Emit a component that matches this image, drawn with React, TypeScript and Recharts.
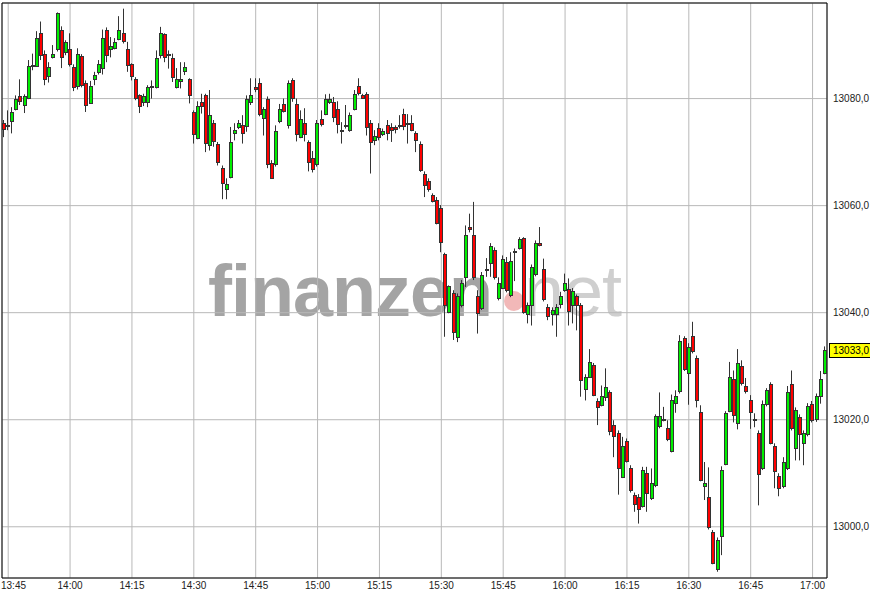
import React from 'react';
import { ComposedChart, Bar, XAxis, YAxis, CartesianGrid, ReferenceArea, ReferenceLine } from 'recharts';

// 1-minute candles, first candle at 13:44
const startMinute = 13 * 60 + 44;

const open = [
  13075.5, 13075.0, 13075.8, 13078.1, 13080.5, 13078.8, 13080.2, 13086.1, 13086.1, 13092.3,
  13088.4, 13084.2, 13087.7, 13089.2, 13092.9, 13088.7, 13089.3, 13085.9, 13082.3, 13087.9,
  13082.9, 13079.2, 13083.7, 13085.0, 13085.7, 13092.9, 13089.2, 13089.5, 13091.1, 13092.3,
  13089.3, 13086.4, 13083.6, 13080.6, 13079.4, 13079.3, 13082.2, 13082.2, 13088.1, 13092.0,
  13088.4, 13087.5, 13082.2, 13083.2, 13085.1, 13083.6, 13077.5, 13072.7, 13079.4, 13080.6,
  13071.3, 13075.5, 13071.6, 13067.0, 13063.2, 13065.4, 13073.6, 13074.7, 13075.0, 13074.9,
  13079.3, 13082.1, 13083.0, 13076.3, 13080.0, 13068.0, 13067.7, 13075.8, 13079.0, 13075.0,
  13083.5, 13078.9, 13072.8, 13075.5, 13071.9, 13068.9, 13067.7, 13076.1, 13077.2, 13079.3,
  13079.4, 13078.0, 13074.2, 13075.1, 13074.1, 13078.1, 13082.4, 13080.6, 13080.9, 13075.5,
  13072.2, 13074.5, 13073.3, 13075.0, 13074.6, 13074.6, 13075.0, 13077.1, 13075.5, 13075.4,
  13073.5, 13071.6, 13066.0, 13064.6, 13061.9, 13061.1, 13059.6, 13051.0, 13040.1, 13043.6,
  13035.5, 13041.4, 13046.7, 13056.0, 13054.6, 13043.1, 13040.8, 13048.2, 13049.2, 13051.7,
  13042.7, 13044.6, 13049.5, 13043.3, 13051.3, 13052.1, 13054.0, 13039.8, 13041.4, 13047.3,
  13053.1, 13048.1, 13041.1, 13039.8, 13039.8, 13041.7, 13044.3, 13044.5, 13041.4, 13043.1,
  13041.5, 13025.8, 13028.0, 13030.2, 13023.5, 13022.8, 13024.2, 13025.1, 13019.1, 13017.6,
  13009.3, 13016.0, 13011.0, 13006.0, 13005.6, 13003.9, 13010.1, 13005.3, 13007.8, 13018.8,
  13020.1, 13018.5, 13014.2, 13023.2, 13025.3, 13035.2, 13028.8, 13035.6, 13031.6, 13021.4,
  13007.6, 13005.6, 12999.0, 12992.2, 12998.3, 13011.8, 13021.6, 13027.7, 13019.3, 13030.0,
  13026.3, 13023.6, 13020.1, 13017.5, 13011.0, 13022.9, 13026.6, 13015.1, 13009.5, 13007.6,
  13011.0, 13026.6, 13014.8, 13020.5, 13015.7, 13017.3, 13023.0, 13020.2, 13024.4, 13028.8,
];

const high = [
  13076.0, 13077.8, 13078.4, 13080.6, 13083.6, 13080.8, 13087.2, 13088.4, 13092.6, 13094.4,
  13089.0, 13086.8, 13090.0, 13096.1, 13093.5, 13090.9, 13092.2, 13086.4, 13089.4, 13088.3,
  13083.4, 13083.3, 13085.0, 13087.2, 13092.9, 13093.3, 13091.5, 13091.3, 13095.4, 13096.8,
  13090.6, 13086.6, 13084.0, 13080.8, 13080.9, 13082.5, 13083.4, 13089.0, 13093.4, 13092.2,
  13089.0, 13088.4, 13085.7, 13086.8, 13086.8, 13083.8, 13077.8, 13079.5, 13080.9, 13080.9,
  13081.6, 13076.0, 13071.9, 13067.5, 13065.1, 13074.7, 13075.4, 13076.0, 13076.9, 13080.6,
  13083.8, 13083.8, 13083.8, 13078.4, 13080.4, 13068.5, 13075.0, 13079.0, 13080.0, 13083.4,
  13083.8, 13080.0, 13077.8, 13078.2, 13072.2, 13070.2, 13076.0, 13077.8, 13080.8, 13080.9,
  13080.3, 13079.5, 13075.6, 13078.8, 13077.4, 13081.6, 13083.8, 13080.9, 13081.2, 13076.0,
  13074.1, 13075.4, 13074.4, 13076.0, 13075.4, 13075.0, 13076.9, 13078.1, 13077.1, 13076.9,
  13073.9, 13072.0, 13066.4, 13065.1, 13062.3, 13061.6, 13060.1, 13051.2, 13045.1, 13044.2,
  13043.6, 13046.1, 13056.3, 13058.5, 13060.7, 13044.2, 13047.6, 13050.2, 13053.0, 13052.2,
  13046.6, 13050.7, 13050.4, 13051.3, 13052.0, 13054.1, 13054.1, 13041.9, 13049.0, 13053.5,
  13056.0, 13050.1, 13041.6, 13041.0, 13041.6, 13043.9, 13047.3, 13046.4, 13044.6, 13043.4,
  13041.8, 13028.5, 13033.2, 13030.6, 13024.0, 13026.4, 13029.6, 13025.5, 13019.9, 13018.0,
  13016.8, 13016.5, 13011.5, 13006.4, 13006.1, 13011.2, 13011.2, 13010.9, 13021.0, 13025.1,
  13022.4, 13019.9, 13024.7, 13025.5, 13035.8, 13035.6, 13034.3, 13038.3, 13032.0, 13022.7,
  13012.1, 13011.1, 12999.4, 12998.0, 13011.3, 13021.6, 13030.8, 13029.2, 13033.2, 13031.1,
  13027.8, 13024.6, 13021.2, 13018.0, 13023.6, 13025.9, 13027.0, 13015.6, 13010.0, 13013.0,
  13026.3, 13029.2, 13022.3, 13021.0, 13018.0, 13023.1, 13023.5, 13024.9, 13029.1, 13033.7,
];

const low = [
  13072.8, 13074.1, 13073.5, 13077.8, 13078.8, 13077.3, 13079.9, 13085.3, 13085.9, 13087.2,
  13082.5, 13083.0, 13087.5, 13088.8, 13085.7, 13088.1, 13086.0, 13081.4, 13081.7, 13082.1,
  13077.5, 13079.0, 13082.5, 13084.5, 13084.5, 13086.8, 13087.7, 13089.2, 13090.9, 13090.3,
  13085.0, 13083.4, 13079.7, 13077.3, 13078.6, 13078.4, 13080.0, 13081.9, 13087.5, 13086.8,
  13085.6, 13083.1, 13081.9, 13081.9, 13084.4, 13079.1, 13071.6, 13072.4, 13077.2, 13070.0,
  13070.3, 13071.0, 13067.5, 13061.2, 13061.2, 13065.1, 13072.2, 13074.3, 13071.6, 13073.8,
  13078.8, 13081.2, 13076.7, 13073.1, 13067.0, 13065.1, 13067.3, 13075.4, 13077.4, 13074.4,
  13079.4, 13072.0, 13072.6, 13072.0, 13066.4, 13066.2, 13067.3, 13074.8, 13076.9, 13079.0,
  13075.6, 13073.5, 13071.6, 13074.4, 13073.8, 13077.8, 13080.6, 13080.0, 13073.1, 13066.0,
  13071.3, 13072.2, 13073.0, 13072.2, 13071.9, 13073.5, 13074.4, 13074.1, 13071.6, 13073.9,
  13070.0, 13066.3, 13061.6, 13062.6, 13060.6, 13056.5, 13051.3, 13035.5, 13039.9, 13034.9,
  13034.5, 13041.0, 13044.8, 13055.0, 13046.1, 13036.1, 13040.5, 13046.7, 13046.7, 13046.2,
  13042.3, 13044.4, 13043.8, 13042.9, 13045.9, 13051.8, 13039.8, 13038.0, 13037.6, 13046.8,
  13052.4, 13042.1, 13038.6, 13037.6, 13035.5, 13040.8, 13043.9, 13037.6, 13038.0, 13036.7,
  13024.3, 13023.6, 13027.8, 13024.4, 13019.0, 13022.5, 13023.5, 13017.1, 13013.0, 13006.0,
  13009.1, 13012.0, 13006.4, 13002.8, 13000.6, 13003.6, 13002.8, 13005.0, 13007.4, 13018.4,
  13019.7, 13016.0, 13013.9, 13021.3, 13024.9, 13029.1, 13022.8, 13032.4, 13022.3, 13008.5,
  13005.0, 12999.5, 12993.0, 12991.6, 12994.7, 13011.5, 13021.4, 13019.5, 13018.2, 13026.4,
  13024.9, 13018.3, 13018.6, 13004.0, 13010.6, 13022.5, 13015.4, 13007.2, 13005.7, 13007.2,
  13010.6, 13018.0, 13012.4, 13012.4, 13011.5, 13016.9, 13019.5, 13019.6, 13023.0, 13028.5,
];

const close = [
  13074.3, 13074.9, 13077.5, 13080.0, 13079.6, 13080.5, 13086.0, 13086.3, 13091.4, 13088.1,
  13083.7, 13085.9, 13088.4, 13095.9, 13087.8, 13090.5, 13086.5, 13082.1, 13088.4, 13082.5,
  13078.8, 13082.3, 13084.5, 13086.4, 13091.4, 13088.1, 13089.8, 13090.5, 13092.9, 13090.7,
  13086.2, 13084.2, 13080.1, 13078.7, 13080.4, 13082.1, 13082.3, 13087.5, 13092.3, 13087.8,
  13088.1, 13084.0, 13083.6, 13083.6, 13085.9, 13080.7, 13073.3, 13078.6, 13078.6, 13071.7,
  13077.0, 13072.0, 13068.2, 13064.2, 13064.1, 13071.9, 13074.1, 13075.5, 13073.6, 13080.0,
  13080.6, 13081.7, 13077.2, 13078.0, 13067.7, 13065.2, 13074.0, 13078.0, 13077.7, 13083.0,
  13080.2, 13073.4, 13076.1, 13073.3, 13068.2, 13066.8, 13075.5, 13075.2, 13080.0, 13080.0,
  13076.6, 13075.2, 13074.1, 13075.0, 13077.0, 13080.9, 13081.1, 13080.2, 13074.7, 13071.8,
  13073.0, 13072.8, 13073.9, 13073.5, 13074.2, 13074.3, 13074.9, 13074.8, 13075.4, 13074.2,
  13072.2, 13066.7, 13063.8, 13063.2, 13060.9, 13056.8, 13053.2, 13041.4, 13044.9, 13036.3,
  13043.1, 13045.6, 13054.6, 13055.6, 13046.7, 13040.0, 13047.0, 13048.1, 13052.5, 13046.7,
  13045.6, 13050.1, 13044.2, 13049.6, 13051.6, 13053.7, 13040.1, 13041.5, 13048.5, 13053.1,
  13052.7, 13042.5, 13039.4, 13040.5, 13041.1, 13043.1, 13045.6, 13040.3, 13044.1, 13041.4,
  13027.4, 13028.0, 13030.7, 13024.7, 13022.4, 13024.4, 13026.1, 13017.9, 13016.9, 13010.9,
  13015.0, 13012.3, 13006.8, 13004.3, 13003.3, 13010.7, 13006.3, 13008.1, 13020.7, 13020.7,
  13020.0, 13016.4, 13023.6, 13024.4, 13034.7, 13029.4, 13033.6, 13032.8, 13023.7, 13008.8,
  13008.1, 12999.9, 12993.3, 12997.6, 13010.7, 13021.2, 13028.0, 13020.8, 13030.6, 13026.9,
  13025.3, 13021.4, 13020.0, 13009.8, 13023.0, 13025.5, 13015.7, 13010.4, 13007.3, 13012.1,
  13025.1, 13018.4, 13021.8, 13017.4, 13017.5, 13022.6, 13019.9, 13024.4, 13027.7, 13033.0,
];

const xTickLabels = ['13:45', '14:00', '14:15', '14:30', '14:45', '15:00', '15:15', '15:30', '15:45', '16:00', '16:15', '16:30', '16:45', '17:00'];
const yTickValues = [13000, 13020, 13040, 13060, 13080];
const yDomain = [12990.43, 13097.86];
const lastPrice = 13033.0;

const UP = '#00ee00';
const DOWN = '#ff0000';
const EDGE = '#333333';
const FONT = 'Liberation Sans, Arial, sans-serif';

const fmtTime = (m: number) => `${Math.floor(m / 60)}:${String(m % 60).padStart(2, '0')}`;
const fmtPrice = (v: number) => v.toFixed(1).replace('.', ',');

const data = open.map((o, i) => ({
  time: fmtTime(startMinute + i),
  open: o,
  high: high[i],
  low: low[i],
  close: close[i],
}));

const Candle = (props: any) => {
  const { x, y, width, height, payload } = props;
  if (!payload || x == null) return null;
  const { open: o, close: c, high: h, low: l } = payload;
  const top = Math.min(y, y + height);
  const hpx = Math.abs(height);
  const span = h - l;
  const per = span > 0 ? hpx / span : 0;
  const yOf = (v: number) => top + (h - v) * per;
  const cx = Math.round(x + width / 2);
  const bTop = Math.round(yOf(Math.max(o, c)));
  const bBot = Math.round(yOf(Math.min(o, c)));
  const up = c >= o;
  return (
    <g>
      <line x1={cx - 0.5} x2={cx - 0.5} y1={top} y2={top + hpx} stroke={EDGE} strokeWidth={1} />
      <rect
        x={cx - 1.5}
        y={bTop + 0.5}
        width={3}
        height={Math.max(bBot - bTop, 1)}
        fill={up ? UP : DOWN}
        stroke={EDGE}
        strokeWidth={1}
      />
    </g>
  );
};

const TimeTick = (props: any) => {
  const { x, y, payload, index } = props;
  const first = index === 0;
  return (
    <text
      x={first ? 1 : x}
      y={y}
      dy={7}
      textAnchor={first ? 'start' : 'middle'}
      fontSize={10}
      fontFamily={FONT}
      fill="#222"
    >
      {payload.value}
    </text>
  );
};

const PriceTag = (props: any) => {
  const vb = props.viewBox || {};
  const x0 = (vb.x || 0) + (vb.width || 0) + 2;
  const y0 = vb.y || 0;
  return (
    <g>
      <rect x={x0 + 0.5} y={Math.round(y0) - 6.5} width={42} height={14} fill="#ffff00" stroke="#000" strokeWidth={1} />
      <text x={x0 + 4} y={y0 + 3.5} fontSize={10} fontFamily={FONT} fill="#000">
        {fmtPrice(lastPrice)}
      </text>
    </g>
  );
};

const Watermark = () => (
  <svg width={870} height={600} style={{ position: 'absolute', left: 0, top: 0 }}>
    <text x={208} y={316} fontSize={72} fontWeight="bold" fontFamily={FONT} fill="#a4a4a4" letterSpacing={-1}>
      finanzen
    </text>
    <circle cx={514} cy={301} r={10} fill="#f2b8b8" />
    <text x={524} y={316} fontSize={72} fontFamily={FONT} fill="#cfcfcf" letterSpacing={-1}>
      net
    </text>
  </svg>
);

export default function App() {
  return (
    <div style={{ position: 'fixed', left: 0, top: 0, width: 870, height: 600, background: '#fff' }}>
      <Watermark />
      <div style={{ position: 'absolute', left: 0, top: 0 }}>
        <ComposedChart width={870} height={600} data={data} margin={{ top: 3, right: 0, bottom: 0, left: 2 }}>
          <CartesianGrid stroke="#b8b8b8" strokeWidth={1} />
          <XAxis
            dataKey="time"
            ticks={xTickLabels}
            interval={0}
            tickLine={false}
            axisLine={false}
            height={22}
            tickSize={4}
            tickMargin={0}
            tick={<TimeTick />}
          />
          <YAxis
            orientation="right"
            domain={yDomain}
            ticks={yTickValues}
            allowDataOverflow
            width={43}
            tickLine={false}
            axisLine={false}
            tickSize={4}
            tickMargin={2}
            tickFormatter={fmtPrice}
            tick={{ fontSize: 10, fill: '#222', fontFamily: FONT, textAnchor: 'start' }}
          />
          <ReferenceArea y1={yDomain[0]} y2={yDomain[1]} fill="none" stroke="#000" strokeWidth={1} fillOpacity={0} ifOverflow="visible" />
          <Bar dataKey={(d: any) => [d.low, d.high]} shape={<Candle />} isAnimationActive={false} />
          <ReferenceLine y={lastPrice} stroke="none" label={<PriceTag />} ifOverflow="visible" />
        </ComposedChart>
      </div>
    </div>
  );
}
